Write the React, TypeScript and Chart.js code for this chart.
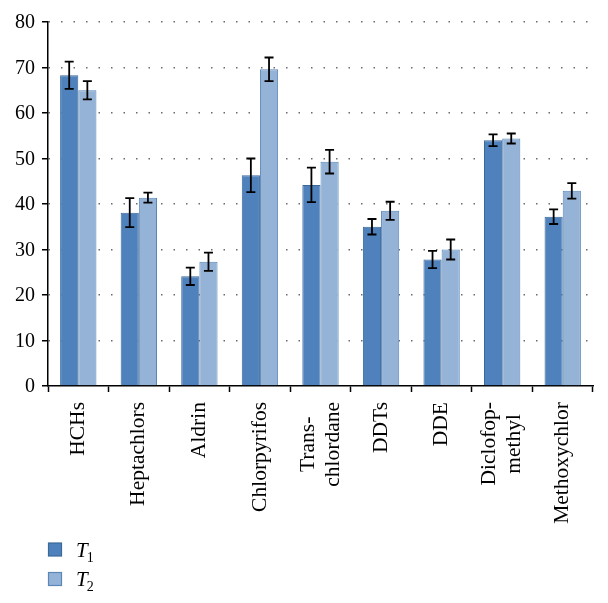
import React, { useEffect, useRef } from 'react';
import { Chart, registerables } from 'chart.js';

Chart.register(...registerables);

// ---- Data ----
const categories: string[][] = [
  ['HCHs'],
  ['Heptachlors'],
  ['Aldrin'],
  ['Chlorpyrifos'],
  ['Trans-', 'chlordane'],
  ['DDTs'],
  ['DDE'],
  ['Diclofop-', 'methyl'],
  ['Methoxychlor'],
];
const seriesNames = ['T1', 'T2'];
const valuesT1 = [68.3, 38.1, 24.1, 46.3, 44.2, 35.0, 27.8, 54.0, 37.2];
const errorsT1 = [3.0, 3.2, 1.9, 3.7, 3.8, 1.7, 1.9, 1.3, 1.6];
const valuesT2 = [65.0, 41.4, 27.3, 69.6, 49.3, 38.5, 30.0, 54.4, 42.9];
const errorsT2 = [2.0, 1.1, 2.0, 2.6, 2.6, 2.0, 2.2, 1.1, 1.7];
const yMin = 0;
const yMax = 80;
const yStep = 10;

const FONT = '"Liberation Serif", serif';
const fills = ['#4F81BD', '#95B3D7'];
const borders = ['#3B6998', '#5A86B8'];

const errorBarPlugin = {
  id: 'errorBars',
  afterDatasetsDraw(chart: any) {
    const ctx = chart.ctx;
    const y = chart.scales.y;
    const errs = [errorsT1, errorsT2];
    ctx.save();
    ctx.strokeStyle = '#000';
    ctx.lineWidth = 1.8;
    chart.data.datasets.forEach((ds: any, di: number) => {
      const meta = chart.getDatasetMeta(di);
      meta.data.forEach((el: any, i: number) => {
        const v = ds.data[i];
        const e = errs[di][i];
        const yT = y.getPixelForValue(v + e);
        const yB = y.getPixelForValue(v - e);
        const cap = 4.5;
        ctx.beginPath();
        ctx.moveTo(el.x, yT);
        ctx.lineTo(el.x, yB);
        ctx.moveTo(el.x - cap, yT);
        ctx.lineTo(el.x + cap, yT);
        ctx.moveTo(el.x - cap, yB);
        ctx.lineTo(el.x + cap, yB);
        ctx.stroke();
      });
    });
    ctx.restore();
  },
};

const axisLabelPlugin = {
  id: 'axisLabels',
  afterDraw(chart: any) {
    const ctx = chart.ctx;
    const x = chart.scales.x;
    const y = chart.scales.y;
    ctx.save();
    ctx.fillStyle = '#000';
    // y tick labels
    ctx.font = `20px ${FONT}`;
    ctx.textAlign = 'right';
    ctx.textBaseline = 'middle';
    y.ticks.forEach((t: any) => {
      ctx.fillText(String(t.value), chart.chartArea.left - 13, y.getPixelForValue(t.value) + 1);
    });
    // x category labels (rotated, multi-line blocks centred per line)
    const top = chart.chartArea.bottom + 16;
    const lh = 25;
    ctx.font = `21.5px ${FONT}`;
    ctx.textAlign = 'center';
    categories.forEach((lines, i) => {
      const px = x.getPixelForValue(i);
      const maxW = Math.max(...lines.map((l) => ctx.measureText(l).width));
      const cy = top + maxW / 2;
      lines.forEach((line, j) => {
        const lx = px + (j - (lines.length - 1) / 2) * lh;
        ctx.save();
        ctx.translate(lx, cy);
        ctx.rotate(-Math.PI / 2);
        ctx.fillText(line, 0, 0);
        ctx.restore();
      });
    });
    ctx.restore();
  },
};

const legendPlugin = {
  id: 'customLegend',
  afterDraw(chart: any) {
    const ctx = chart.ctx;
    const left = chart.chartArea.left;
    const base = chart.chartArea.bottom + 163.5;
    const gap = 29.5;
    ctx.save();
    seriesNames.forEach((name, i) => {
      const cy = base + i * gap;
      ctx.fillStyle = fills[i];
      ctx.strokeStyle = borders[i];
      ctx.lineWidth = 1.2;
      ctx.fillRect(left + 0.5, cy - 6.5, 13, 13);
      ctx.strokeRect(left + 0.5, cy - 6.5, 13, 13);
      const main = name.slice(0, 1);
      const sub = name.slice(1);
      ctx.fillStyle = '#000';
      ctx.textBaseline = 'alphabetic';
      ctx.textAlign = 'left';
      ctx.font = `italic 21px ${FONT}`;
      const tx = left + 28;
      ctx.fillText(main, tx, cy + 7);
      const w = ctx.measureText(main).width;
      ctx.font = `14px ${FONT}`;
      ctx.fillText(sub, tx + w - 1, cy + 12);
    });
    ctx.restore();
  },
};

export default function App() {
  const ref = useRef<HTMLCanvasElement | null>(null);
  useEffect(() => {
    if (!ref.current) return;
    const chart = new Chart(ref.current, {
      type: 'bar',
      data: {
        labels: categories as any,
        datasets: [
          {
            label: seriesNames[0],
            data: valuesT1,
            backgroundColor: fills[0],
            borderColor: borders[0],
            borderWidth: 1,
            categoryPercentage: 0.6,
            barPercentage: 1.0,
          },
          {
            label: seriesNames[1],
            data: valuesT2,
            backgroundColor: fills[1],
            borderColor: borders[1],
            borderWidth: 1,
            categoryPercentage: 0.6,
            barPercentage: 1.0,
          },
        ],
      },
      options: {
        animation: false,
        responsive: false,
        devicePixelRatio: 1,
        layout: { padding: { top: 22, right: 15, left: 0, bottom: 0 } },
        plugins: {
          legend: { display: false },
          tooltip: { enabled: false },
          title: { display: false },
        },
        scales: {
          x: {
            type: 'category',
            offset: true,
            grid: {
              offset: true,
              drawOnChartArea: false,
              drawTicks: true,
              tickLength: 6,
              tickColor: '#000',
              tickWidth: 1.5,
            },
            border: { display: true, color: '#000', width: 1.5 },
            ticks: { display: false },
            afterFit(scale: any) {
              scale.height = 217;
            },
          },
          y: {
            min: yMin,
            max: yMax,
            ticks: {
              stepSize: yStep,
              display: false,
            },
            grid: {
              drawTicks: true,
              tickLength: 6,
              tickColor: '#000',
              tickWidth: 1.5,
              tickBorderDash: [],
              lineWidth: 1.5,
              color: (c: any) => (c.tick && c.tick.value === 0 ? 'rgba(0,0,0,0)' : '#6a6a6a'),
            },
            border: { display: true, color: '#000', width: 1.5, dash: [1.5, 11] },
            afterFit(scale: any) {
              scale.width = 48;
            },
          },
        },
      } as any,
      plugins: [errorBarPlugin, axisLabelPlugin, legendPlugin],
    });
    return () => chart.destroy();
  }, []);
  return (
    <div style={{ position: 'absolute', left: 0, top: 0, width: 608, height: 603, background: '#fff' }}>
      <canvas ref={ref} width={608} height={603} style={{ display: 'block' }} />
    </div>
  );
}
